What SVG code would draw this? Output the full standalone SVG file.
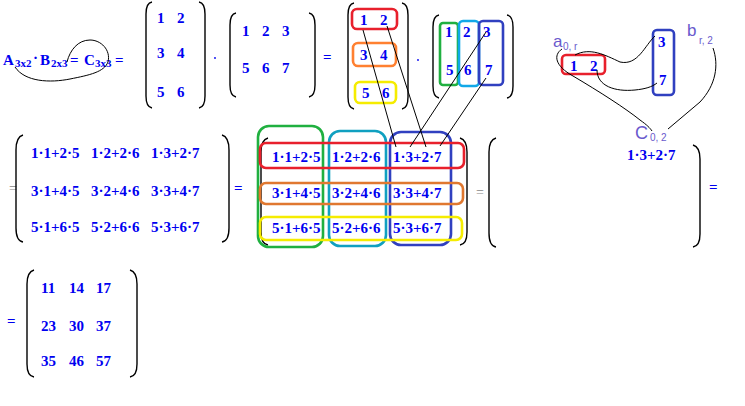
<svg xmlns="http://www.w3.org/2000/svg" width="745" height="406" viewBox="0 0 745 406">
<style>
.t{font-family:"Liberation Serif","Times New Roman",serif;font-size:15px;fill:#0000f0;font-weight:bold}
.s{font-family:"Liberation Serif","Times New Roman",serif;font-size:11px;fill:#0000f0;font-weight:bold}
.g{font-family:"Liberation Serif",serif;font-size:14px;fill:#888888}
.l{font-family:"Liberation Sans",Arial,sans-serif;fill:#6a5acd}
.br{fill:none;stroke:#000;stroke-width:1.4}
.bx{fill:none;stroke-width:2.6}
.cn{fill:none;stroke:#000;stroke-width:1}
</style>
<rect width="745" height="406" fill="#fff"/>

<g id="header-equation">
<text class="t" x="3" y="65">A</text><text class="s" x="15" y="67">3x2</text>
<text class="t" x="33" y="63">·</text>
<text class="t" x="40" y="65">B</text><text class="s" x="51" y="67">2x3</text>
<text class="t" x="70" y="65">=</text>
<text class="t" x="84" y="65">C</text><text class="s" x="95" y="67">3x3</text>
<text class="t" x="115" y="65">=</text>
</g>

<g id="matrix-a">
<path class="br" d="M152,2 Q146,3 146,14 L146,96 Q146,107 152,108"/>
<path class="br" d="M199,2 Q205,3 205,14 L205,96 Q205,107 199,108"/>
<text class="t" x="157" y="23">1</text><text class="t" x="177" y="23">2</text>
<text class="t" x="157" y="58">3</text><text class="t" x="177" y="58">4</text>
<text class="t" x="157" y="97">5</text><text class="t" x="177" y="97">6</text>
</g>

<g id="dot-1"><circle cx="215" cy="58" r="0.9" fill="#0000f0"/></g>

<g id="matrix-b">
<path class="br" d="M236,13 Q230,14 230,25 L230,85 Q230,96 236,97"/>
<path class="br" d="M309,13 Q315,14 315,25 L315,85 Q315,96 309,97"/>
<text class="t" x="242" y="36">1</text><text class="t" x="262" y="36">2</text><text class="t" x="282" y="36">3</text>
<text class="t" x="242" y="73">5</text><text class="t" x="262" y="73">6</text><text class="t" x="282" y="73">7</text>
</g>

<g id="eq-1"><text class="t" x="323" y="62">=</text></g>

<g id="matrix-a-boxed">
<path class="br" d="M354,3 Q348,4 348,15 L348,97 Q348,108 354,109"/>
<path class="br" d="M402,3 Q408,4 408,15 L408,97 Q408,108 402,109"/>
<rect class="bx" x="352" y="9" width="45" height="20" rx="5" stroke="#e8202c"/>
<rect class="bx" x="353" y="43" width="43" height="23" rx="5" stroke="#ff8030"/>
<rect class="bx" x="355" y="82" width="41" height="21" rx="5" stroke="#f5ec00"/>
<text class="t" x="360" y="25">1</text><text class="t" x="380" y="25">2</text>
<text class="t" x="360" y="60">3</text><text class="t" x="380" y="60">4</text>
<text class="t" x="362" y="98">5</text><text class="t" x="382" y="98">6</text>
</g>

<g id="dot-2"><circle cx="418" cy="60" r="0.9" fill="#0000f0"/></g>

<g id="matrix-b-boxed">
<path class="br" d="M439,15 Q433,16 433,27 L433,86 Q433,97 439,98"/>
<path class="br" d="M507,15 Q513,16 513,27 L513,86 Q513,97 507,98"/>
<rect class="bx" x="440" y="23" width="18" height="62" rx="3" stroke="#20b040"/>
<rect class="bx" x="459" y="21" width="20" height="65" rx="4" stroke="#10a8e8"/>
<rect class="bx" x="479" y="21" width="24" height="64" rx="4" stroke="#3040c0"/>
<text class="t" x="445" y="37">1</text><text class="t" x="463" y="37">2</text><text class="t" x="483" y="37">3</text>
<text class="t" x="446" y="75">5</text><text class="t" x="464" y="75">6</text><text class="t" x="485" y="75">7</text>
</g>

<g id="illustration">
<text class="l" x="553" y="47" font-size="17">a</text><text class="l" x="563" y="50" font-size="10">0, r</text>
<rect class="bx" x="562" y="55" width="43" height="19" rx="4" stroke="#e8202c"/>
<text class="t" x="570" y="71">1</text><text class="t" x="590" y="71">2</text>
<rect class="bx" x="653" y="30" width="21" height="65" rx="4" stroke="#3040c0"/>
<text class="t" x="658" y="47">3</text><text class="t" x="659" y="85">7</text>
<text class="l" x="687" y="36" font-size="17">b</text><text class="l" x="699" y="44" font-size="10">r, 2</text>
<text class="l" x="635" y="139" font-size="18">C</text><text class="l" x="650" y="141" font-size="10">0, 2</text>
</g>

<g id="matrix-expanded">
<text class="g" x="9" y="193">=</text>
<path class="br" d="M23,135 Q16,137 16,150 L16,228 Q16,241 23,242"/>
<path class="br" d="M222,135 Q229,137 229,150 L229,228 Q229,241 222,242"/>
<text class="t" x="31" y="158">1·1+2·5</text><text class="t" x="91" y="158">1·2+2·6</text><text class="t" x="151" y="158">1·3+2·7</text>
<text class="t" x="31" y="196">3·1+4·5</text><text class="t" x="91" y="196">3·2+4·6</text><text class="t" x="151" y="196">3·3+4·7</text>
<text class="t" x="31" y="232">5·1+6·5</text><text class="t" x="91" y="232">5·2+6·6</text><text class="t" x="151" y="232">5·3+6·7</text>
<text class="t" x="234" y="193">=</text>
</g>

<g id="matrix-expanded-boxed">
<path class="br" d="M268,138 Q261,140 261,152 L261,232 Q261,244 268,245"/>
<path class="br" d="M460,138 Q467,140 467,152 L467,232 Q467,244 460,245"/>
<rect class="bx" x="258" y="126" width="65" height="121" rx="11" stroke="#20b040"/>
<rect class="bx" x="329" y="131" width="57" height="115" rx="11" stroke="#10a0c0"/>
<rect class="bx" x="390" y="132" width="61" height="113" rx="11" stroke="#3040c0"/>
<rect class="bx" x="260" y="143" width="204" height="25" rx="6" stroke="#e8202c"/>
<rect class="bx" x="260" y="183" width="203" height="21" rx="6" stroke="#e07830"/>
<rect class="bx" x="260" y="217" width="202" height="23" rx="6" stroke="#f5ec00"/>
<text class="t" x="272" y="162">1·1+2·5</text><text class="t" x="332" y="162">1·2+2·6</text><text class="t" x="393" y="162">1·3+2·7</text>
<text class="t" x="272" y="198">3·1+4·5</text><text class="t" x="332" y="198">3·2+4·6</text><text class="t" x="393" y="198">3·3+4·7</text>
<text class="t" x="272" y="233">5·1+6·5</text><text class="t" x="332" y="233">5·2+6·6</text><text class="t" x="393" y="233">5·3+6·7</text>
<text class="g" x="476" y="197">=</text>
</g>

<g id="matrix-c-partial">
<path class="br" d="M496,138 Q489,140 489,152 L489,233 Q489,246 496,247"/>
<path class="br" d="M693,145 Q700,147 700,159 L700,234 Q700,246 693,247"/>
<text class="t" x="627" y="160">1·3+2·7</text>
<text class="t" x="709" y="192">=</text>
</g>

<g id="matrix-result">
<text class="t" x="7" y="326">=</text>
<path class="br" d="M34,270 Q27,272 27,284 L27,364 Q27,376 34,377"/>
<path class="br" d="M130,270 Q137,272 137,284 L137,364 Q137,376 130,377"/>
<text class="t" x="41" y="293">11</text><text class="t" x="69" y="293">14</text><text class="t" x="96" y="293">17</text>
<text class="t" x="41" y="331">23</text><text class="t" x="69" y="331">30</text><text class="t" x="96" y="331">37</text>
<text class="t" x="41" y="366">35</text><text class="t" x="69" y="366">46</text><text class="t" x="96" y="366">57</text>
</g>

<g id="connectors">
<path class="cn" d="M15,67 C25,82 50,83 70,79 C90,75 104,72 108,62 C111,50 101,40 90,40 C78,40 70,50 67,62"/>
<line class="cn" x1="363" y1="30" x2="396" y2="147"/>
<line class="cn" x1="387" y1="26" x2="426" y2="147"/>
<line class="cn" x1="486" y1="32" x2="410" y2="147"/>
<line class="cn" x1="486" y1="78" x2="440" y2="146"/>
<path class="cn" d="M562,49 C553,55 555,66 573,76 C600,92 625,108 640,120 C647,125 650,128 652,131"/>
<path class="cn" d="M575,55 C590,47 605,55 620,62 C638,66 645,45 655,36"/>
<path class="cn" d="M597,70 C597,86 615,92 635,90 C645,89 652,87 657,83"/>
<path class="cn" d="M713,48 C719,65 716,85 700,102 L668,129"/>
</g>
</svg>
